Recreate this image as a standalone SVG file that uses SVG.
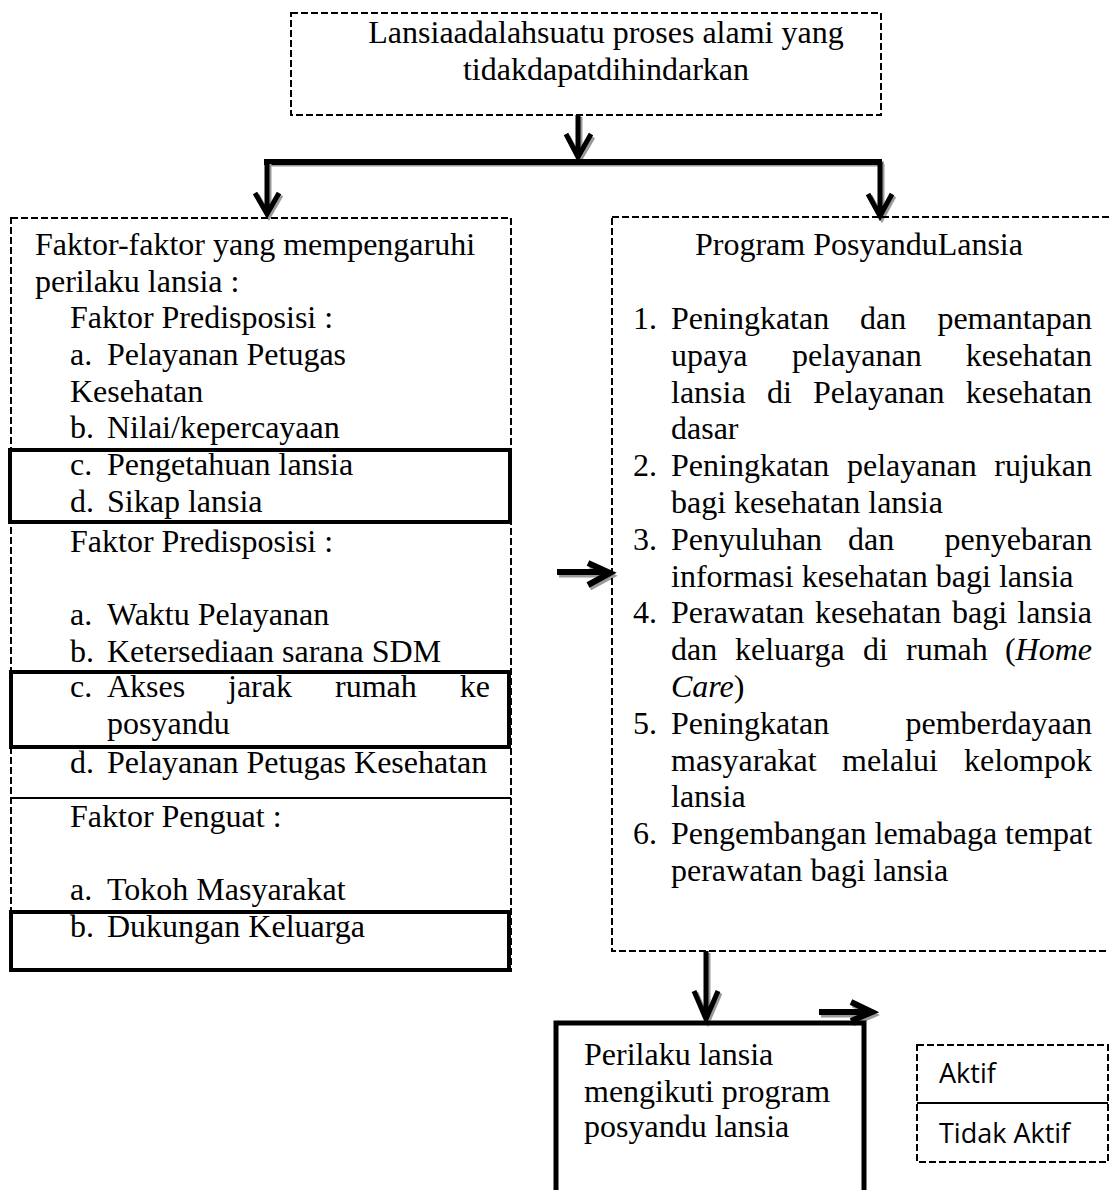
<svg xmlns="http://www.w3.org/2000/svg" width="1109" height="1190" viewBox="0 0 1109 1190">
<style>
.t{font-family:"Liberation Serif","Times New Roman",serif;font-size:32px;fill:#000}
.i{font-style:italic}
.s{font-family:"Open Sans","Liberation Sans",sans-serif;font-size:27px;fill:#000}
.dash{fill:none;stroke:#000;stroke-width:2;stroke-dasharray:7 3}
.thick{fill:none;stroke:#000;stroke-width:4}
.ln{fill:none;stroke:#000;stroke-width:5;stroke-linecap:butt;stroke-linejoin:miter}
.sh{fill:none;stroke:#9a9a9a;stroke-width:5;stroke-linejoin:miter}
</style>
<rect width="1109" height="1190" fill="#fff"/>

<g id="connectors">
  <!-- top down arrow -->
  <path class="sh" d="M580 117 V158 M568 137 L580 159 L593 137"/>
  <path class="ln" d="M578 115 V156 M566 134 L578 157 L591 134"/>
  <!-- bar -->
  <path class="sh" d="M267 164 H884"/>
  <path class="ln" d="M264 162 H882" style="stroke-width:6"/>
  <!-- left down -->
  <path class="sh" d="M269 164 V214 M257 195 L269 216 L281 195"/>
  <path class="ln" d="M267 162 V212 M255 193 L267 214 L279 193"/>
  <!-- right down -->
  <path class="sh" d="M882 164 V215 M870 196 L882 218 L894 196"/>
  <path class="ln" d="M880 162 V213 M868 194 L880 216 L892 194"/>
  <!-- middle right arrow -->
  <path class="sh" d="M559 575 H607 M590 566 L612 576 L590 588"/>
  <path class="ln" d="M557 572 H606 M588 563 L610 573 L588 585" style="stroke-width:6"/>
  <!-- bottom down arrow -->
  <path class="sh" d="M708 953 V1018 M696 993 L708 1021 L720 993"/>
  <path class="ln" d="M706 951 V1016 M694 991 L706 1019 L718 991"/>
  <!-- bottom right arrow -->
  <path class="sh" d="M821 1015 H869 M853 1005 L874 1015 L853 1024"/>
  <path class="ln" d="M819 1012 H868 M851 1002 L872 1012 L851 1021" style="stroke-width:6"/>
</g>

<g id="node-top">
  <rect class="dash" x="291" y="13" width="590" height="102"/>
  <text class="t" x="606" y="43" text-anchor="middle">Lansiaadalahsuatu proses alami yang</text>
  <text class="t" x="606" y="80" text-anchor="middle">tidakdapatdihindarkan</text>
</g>

<g id="node-faktor">
  <rect class="dash" x="11" y="218" width="500" height="753"/>
  <line x1="11" y1="798" x2="511" y2="798" stroke="#000" stroke-width="2"/>
  <rect class="thick" x="10" y="450" width="500" height="72"/>
  <rect class="thick" x="11" y="672" width="498" height="75"/>
  <rect class="thick" x="11" y="912" width="498" height="58"/>
  <text class="t" x="35" y="255">Faktor-faktor yang mempengaruhi</text>
  <text class="t" x="35" y="292">perilaku lansia :</text>
  <text class="t" x="70" y="328">Faktor Predisposisi :</text>
  <text class="t" y="365"><tspan x="70">a.</tspan><tspan x="107">Pelayanan Petugas</tspan></text>
  <text class="t" x="70" y="402">Kesehatan</text>
  <text class="t" y="438"><tspan x="70">b.</tspan><tspan x="107">Nilai/kepercayaan</tspan></text>
  <text class="t" y="475"><tspan x="70">c.</tspan><tspan x="107">Pengetahuan lansia</tspan></text>
  <text class="t" y="512"><tspan x="70">d.</tspan><tspan x="107">Sikap lansia</tspan></text>
  <text class="t" x="70" y="552">Faktor Predisposisi :</text>
  <text class="t" y="625"><tspan x="70">a.</tspan><tspan x="107">Waktu Pelayanan</tspan></text>
  <text class="t" y="662"><tspan x="70">b.</tspan><tspan x="107">Ketersediaan sarana SDM</tspan></text>
  <text class="t" y="697"><tspan x="70">c.</tspan><tspan x="107">Akses</tspan><tspan x="228">jarak</tspan><tspan x="335">rumah</tspan></text>
  <text class="t" x="490" y="697" text-anchor="end">ke</text>
  <text class="t" x="107" y="734">posyandu</text>
  <text class="t" y="773"><tspan x="70">d.</tspan><tspan x="107">Pelayanan Petugas Kesehatan</tspan></text>
  <text class="t" x="70" y="827">Faktor Penguat :</text>
  <text class="t" y="900"><tspan x="70">a.</tspan><tspan x="107">Tokoh Masyarakat</tspan></text>
  <text class="t" y="937"><tspan x="70">b.</tspan><tspan x="107">Dukungan Keluarga</tspan></text>
</g>

<g id="node-program">
  <rect class="dash" x="612" y="217" width="510" height="734"/>
  <text class="t" x="695" y="255">Program PosyanduLansia</text>

  <text class="t" y="329"><tspan x="633">1.</tspan><tspan x="671">Peningkatan</tspan><tspan x="860">dan</tspan></text>
  <text class="t" x="1092" y="329" text-anchor="end">pemantapan</text>
  <text class="t" y="366"><tspan x="671">upaya</tspan><tspan x="792">pelayanan</tspan></text>
  <text class="t" x="1092" y="366" text-anchor="end">kesehatan</text>
  <text class="t" y="403"><tspan x="671">lansia</tspan><tspan x="767">di</tspan><tspan x="813">Pelayanan</tspan></text>
  <text class="t" x="1092" y="403" text-anchor="end">kesehatan</text>
  <text class="t" x="671" y="439">dasar</text>

  <text class="t" y="476"><tspan x="633">2.</tspan><tspan x="671">Peningkatan</tspan><tspan x="847">pelayanan</tspan></text>
  <text class="t" x="1092" y="476" text-anchor="end">rujukan</text>
  <text class="t" x="671" y="513">bagi kesehatan lansia</text>

  <text class="t" y="550"><tspan x="633">3.</tspan><tspan x="671">Penyuluhan</tspan><tspan x="848">dan</tspan></text>
  <text class="t" x="1092" y="550" text-anchor="end">penyebaran</text>
  <text class="t" x="671" y="587">informasi kesehatan bagi lansia</text>

  <text class="t" y="623"><tspan x="633">4.</tspan><tspan x="671">Perawatan</tspan><tspan x="815">kesehatan</tspan><tspan x="952">bagi</tspan></text>
  <text class="t" x="1092" y="623" text-anchor="end">lansia</text>
  <text class="t" y="660"><tspan x="671">dan</tspan><tspan x="735">keluarga</tspan><tspan x="863">di</tspan><tspan x="906">rumah</tspan></text>
  <text class="t" x="1092" y="660" text-anchor="end">(<tspan class="i">Home</tspan></text>
  <text class="t" x="671" y="697"><tspan class="i">Care</tspan>)</text>

  <text class="t" y="734"><tspan x="633">5.</tspan><tspan x="671">Peningkatan</tspan></text>
  <text class="t" x="1092" y="734" text-anchor="end">pemberdayaan</text>
  <text class="t" y="771"><tspan x="671">masyarakat</tspan><tspan x="842">melalui</tspan></text>
  <text class="t" x="1092" y="771" text-anchor="end">kelompok</text>
  <text class="t" x="671" y="807">lansia</text>

  <text class="t" y="844"><tspan x="633">6.</tspan><tspan x="671">Pengembangan lemabaga tempat</tspan></text>
  <text class="t" x="671" y="881">perawatan bagi lansia</text>
</g>

<g id="node-perilaku">
  <rect x="556" y="1023" width="308" height="180" fill="none" stroke="#000" stroke-width="5"/>
  <text class="t" x="584" y="1065">Perilaku lansia</text>
  <text class="t" x="584" y="1102">mengikuti program</text>
  <text class="t" x="584" y="1137">posyandu lansia</text>
</g>

<g id="node-legend">
  <rect class="dash" x="917" y="1045" width="191" height="117"/>
  <line x1="917" y1="1103" x2="1108" y2="1103" stroke="#000" stroke-width="2"/>
  <text class="s" x="939" y="1083">Aktif</text>
  <text class="s" x="939" y="1143">Tidak Aktif</text>
</g>
</svg>
